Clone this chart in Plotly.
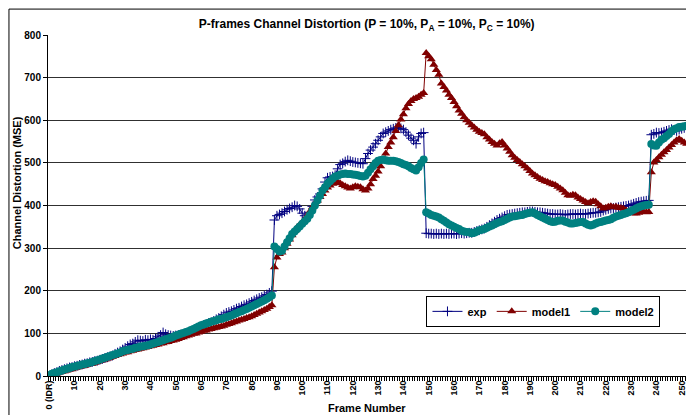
import plotly.graph_objects as go

frames = list(range(253))

tick_frames = list(range(0, 251, 10))
tick_labels = ["0 (IDR)"] + [str(f) for f in tick_frames[1:]]

exp_vals = [
    0, 4, 7, 9, 12, 14, 16, 18, 20, 21, 23,
    24, 26, 27, 29, 30, 32, 33, 35, 36, 38,
    40, 42, 44, 46, 48, 52, 55, 58, 62, 66,
    70, 74, 76, 80, 84, 83, 82, 85, 84, 86,
    85, 88, 92, 96, 102, 98, 96, 95, 94, 95,
    96, 97, 98, 100, 102, 105, 108, 110, 113, 116,
    119, 121, 124, 126, 129, 133, 136, 140, 144, 148,
    150, 152, 155, 158, 160, 163, 166, 168, 171, 174,
    177, 180, 183, 185, 188, 191, 195, 199,
    366, 376, 379, 382, 386, 390, 393, 396, 400, 398, 392,
    382, 376, 372, 384, 398, 413, 420, 427, 439, 455,
    465, 467, 468, 471, 486, 496, 499, 503, 506, 504,
    502, 501, 500, 499, 498, 510, 522, 530, 537, 545,
    553, 561, 569, 572, 575, 578, 580, 582, 584, 581,
    578, 572, 565, 558, 553, 545, 561, 569, 571,
    335, 334, 334, 333, 334, 333, 334, 333, 334, 333, 334,
    334, 333, 334, 335, 334, 335, 336, 336, 338, 340,
    342, 344, 346, 350, 354, 358, 362, 366, 369, 372,
    375, 378, 379, 380, 381, 382, 383, 384, 384, 385,
    386, 386, 385, 384, 384, 383, 382, 381, 380, 380,
    379, 379, 380, 379, 378, 379, 380, 380, 379, 380,
    381, 380, 380, 381, 382, 383, 383, 384, 385, 388,
    390, 392, 393, 394, 395, 396, 397, 398, 399, 400,
    402, 404, 406, 408, 409, 410, 411, 412,
    566, 568, 571, 570, 571, 573, 575, 577, 579, 577,
    575, 578, 580, 582, 584,
]

model1_vals = [
    0, 2, 4, 6, 8, 10, 11, 13, 15, 16, 18,
    20, 21, 23, 24, 26, 28, 29, 31, 33, 35,
    37, 39, 41, 43, 45, 47, 49, 51, 53, 55,
    56, 58, 59, 61, 62, 64, 65, 67, 68, 70,
    71, 73, 74, 76, 77, 79, 80, 82, 83, 85,
    87, 89, 91, 93, 95, 97, 99, 100, 102, 104,
    106, 107, 109, 110, 112, 113, 115, 116, 118, 120,
    122, 124, 126, 128, 130, 132, 134, 136, 138, 140,
    143, 146, 149, 152, 155, 158, 162, 166,
    255, 278, 286, 290, 300, 310, 320, 330, 340, 349, 355,
    361, 368, 376, 386, 396, 404, 412, 420, 427, 435,
    442, 447, 451, 453, 455, 452, 448, 445, 442, 440,
    443, 445, 444, 443, 438, 435, 440, 450, 462, 470,
    480, 492, 505, 522, 537, 548, 560, 575, 588, 602,
    614, 628, 638, 645, 650, 652, 655, 660, 664,
    758, 750, 743, 730, 718, 707, 686, 678, 670, 660, 652,
    643, 633, 623, 615, 607, 600, 594, 588, 583, 578,
    573, 570, 567, 560, 555, 549, 545, 541, 546, 549,
    541, 534, 526, 518, 512, 507, 502, 497, 492, 487,
    481, 475, 471, 467, 463, 460, 457, 455, 452, 450,
    448, 444, 440, 436, 430, 424, 423, 425, 424, 419,
    415, 412, 408, 405, 408, 410, 409, 403, 398, 393,
    395, 397, 398, 396, 397, 395, 394, 393, 389, 385,
    383, 382, 381, 383, 385, 385, 384, 385,
    478, 501, 507, 513, 519, 525, 530, 536, 542, 548,
    553, 556, 552, 548, 545,
]

model2_vals = [
    2, 5, 7, 9, 11, 13, 15, 17, 19, 21, 22,
    24, 25, 27, 28, 30, 31, 33, 35, 37, 39,
    41, 43, 45, 47, 49, 51, 53, 55, 58, 60,
    61, 63, 64, 66, 67, 69, 70, 71, 72, 74,
    76, 78, 80, 82, 84, 86, 88, 90, 92, 95,
    97, 99, 101, 103, 105, 108, 110, 113, 116, 119,
    121, 123, 125, 127, 129, 131, 133, 134, 136, 138,
    140, 142, 145, 147, 150, 152, 155, 157, 160, 163,
    166, 169, 172, 175, 178, 181, 185, 189,
    304, 298, 292, 294, 304, 314, 323, 333, 339, 345, 351,
    357, 363, 369, 378, 388, 400, 412, 423, 435, 443,
    451, 457, 463, 468, 470, 473, 474, 475, 474, 474,
    473, 472, 471, 469, 468, 470, 477, 485, 492, 500,
    505, 507, 508, 506, 505, 505, 505, 504, 502, 500,
    497, 495, 492, 488, 485, 482, 490, 500, 508,
    384, 381, 378, 376, 374, 372, 368, 364, 360, 356, 353,
    350, 347, 345, 341, 339, 338, 337, 335, 336, 339,
    342, 343, 345, 348, 351, 353, 356, 359, 361, 363,
    366, 369, 372, 374, 375, 376, 377, 378, 380, 382,
    383, 384, 381, 378, 375, 372, 369, 366, 363, 361,
    362, 364, 365, 365, 362, 360, 358, 358, 359, 360,
    361, 361, 358, 355, 353, 355, 358, 360, 361, 363,
    365, 366, 368, 371, 374, 376, 378, 380, 382, 384,
    387, 390, 393, 396, 398, 400, 401, 402,
    544, 541, 540, 548, 554, 558, 563, 568, 574, 579,
    581, 584, 585, 586, 587,
]

FONT = "Arial, Liberation Sans, sans-serif"

fig = go.Figure()

fig.add_trace(go.Scatter(
    x=frames, y=exp_vals, name="exp", mode="lines+markers",
    line=dict(color="#000080", width=1),
    marker=dict(symbol="cross-thin", size=7, line=dict(color="#000080", width=1)),
))
fig.add_trace(go.Scatter(
    x=frames, y=model1_vals, name="model1", mode="lines+markers",
    line=dict(color="#800000", width=1),
    marker=dict(symbol="triangle-up", size=8, color="#800000"),
))
fig.add_trace(go.Scatter(
    x=frames, y=model2_vals, name="model2", mode="lines+markers",
    line=dict(color="#008080", width=1),
    marker=dict(symbol="circle", size=8, color="#008080"),
))

# the page body adds an 8px offset, so the figure is sized to what is visible
# plot area: 640 x 341 px
fig.update_layout(
    width=686, height=407,
    margin=dict(l=40, r=6, t=27, b=39, autoexpand=False),
    paper_bgcolor="white", plot_bgcolor="white",
    font=dict(family=FONT, size=10, color="black"),
    showlegend=True,
    legend=dict(
        orientation="h", x=0.957, y=0.235, xanchor="right", yanchor="top",
        bgcolor="white", bordercolor="black", borderwidth=1,
        font=dict(family=FONT, size=11, color="black", weight="bold"),
        itemwidth=30, tracegroupgap=0,
    ),
    title=dict(
        text="<b>P-frames Channel Distortion (P = 10%, P<sub>A</sub> = 10%, P<sub>C</sub> = 10%)</b>",
        x=0.498, xref="paper", xanchor="center", y=0.96, yanchor="middle",
        font=dict(family=FONT, size=12, color="black"),
    ),
)

fig.update_xaxes(
    range=[-0.5, 252.5], automargin=False,
    tickmode="array", tickvals=tick_frames, ticktext=tick_labels,
    tickangle=-90, ticks="",
    tickfont=dict(family=FONT, size=9, color="black", weight="bold"),
    showline=True, linecolor="black", linewidth=1,
    showgrid=False, zeroline=False,
    minor=dict(tickmode="linear", tick0=-0.5, dtick=1, ticks="outside",
               ticklen=4, tickcolor="black", tickwidth=1, showgrid=False),
)
fig.update_yaxes(
    range=[0, 800], dtick=100, automargin=False,
    tickfont=dict(family=FONT, size=10, color="black", weight="bold"),
    ticks="outside", ticklen=4, tickcolor="black",
    showline=True, linecolor="black", linewidth=1,
    showgrid=True, gridcolor="#303030", gridwidth=1, zeroline=False,
)

fig.add_annotation(
    text="<b>Frame Number</b>", xref="paper", yref="paper",
    x=0.498, y=-0.094, xanchor="center", yanchor="middle", showarrow=False,
    font=dict(family=FONT, size=11, color="black"),
)
fig.add_annotation(
    text="<b>Channel Distortion (MSE)</b>", xref="paper", yref="paper",
    x=-0.048, y=0.566, xanchor="center", yanchor="middle",
    textangle=-90, showarrow=False,
    font=dict(family=FONT, size=11, color="black"),
)

# chart outer border
fig.add_shape(type="rect", xref="paper", yref="paper",
              x0=-0.0610, x1=1.0035, y0=-0.2, y1=1.076,
              line=dict(color="black", width=1), layer="above")
fig.add_shape(type="line", xref="paper", yref="paper",
              x0=1.006, x1=1.006, y0=-0.2, y1=1.07,
              line=dict(color="#a0a0a0", width=3), layer="above")

fig.write_html("out.html")
